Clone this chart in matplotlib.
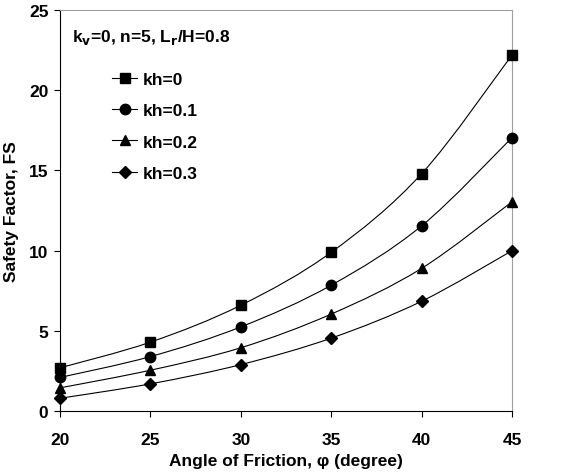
import numpy as np
import matplotlib
matplotlib.use("Agg")
import matplotlib.pyplot as plt
from matplotlib.path import Path
from matplotlib.patches import PathPatch
from matplotlib.lines import Line2D

plt.rcParams['font.family'] = ['Liberation Sans', 'DejaVu Sans']
plt.rcParams['font.weight'] = 'bold'

# data
angles = [20, 25, 30, 35, 40, 45]
fs_kh0 = [2.7, 4.3, 6.6, 9.9, 14.8, 22.2]
fs_kh01 = [2.1, 3.4, 5.25, 7.85, 11.55, 17.05]
fs_kh02 = [1.45, 2.55, 3.95, 6.05, 8.9, 13.05]
fs_kh03 = [0.8, 1.7, 2.9, 4.55, 6.85, 10.0]
labels = ['kh=0', 'kh=0.1', 'kh=0.2', 'kh=0.3']
markers = ['s', 'o', '^', 'D']
msizes = [7, 7.5, 7.5, 6]


# smooth curve through the points (excel style), drawn as cubic bezier path
def smoothPath(x, y, t=1/6):
    x = np.asarray(x, float)
    y = np.asarray(y, float)
    verts = [(x[0], y[0])]
    codes = [Path.MOVETO]
    n = len(x)
    for i in range(n - 1):
        i0 = max(i - 1, 0)
        i3 = min(i + 2, n - 1)
        c1 = (x[i] + (x[i+1] - x[i0]) * t, y[i] + (y[i+1] - y[i0]) * t)
        c2 = (x[i+1] - (x[i3] - x[i]) * t, y[i+1] - (y[i3] - y[i]) * t)
        verts += [c1, c2, (x[i+1], y[i+1])]
        codes += [Path.CURVE4] * 3
    return Path(verts, codes)


fig = plt.figure(figsize=(5.63, 4.77), dpi=100)
ax = fig.add_axes([0.1066, 0.136, 0.803, 0.841])

series = [fs_kh0, fs_kh01, fs_kh02, fs_kh03]
handles = []
for vals, lab, mk, ms in zip(series, labels, markers, msizes):
    ax.add_patch(PathPatch(smoothPath(angles, vals), fill=False, edgecolor='black', lw=0.8, zorder=2))
    ax.plot(angles, vals, linestyle='none', marker=mk, markersize=ms, color='black', zorder=3, clip_on=False)
    handles.append(Line2D([], [], color='black', lw=0.8, marker=mk, markersize=ms, label=lab))

ax.set_xlim(20, 45)
ax.set_ylim(0, 25)
ax.set_xticks([20, 25, 30, 35, 40, 45])
ax.set_yticks([0, 5, 10, 15, 20, 25])
ax.tick_params(direction='out', length=4.3, width=0.8, labelsize=12.5, pad=4)
ax.tick_params(axis='x', pad=11)
for lbl in ax.get_xticklabels() + ax.get_yticklabels():
    lbl.set_fontweight('bold')

ax.spines['top'].set_color('#a0a0a0')
ax.spines['right'].set_color('#a0a0a0')
ax.spines['left'].set_color('black')
ax.spines['bottom'].set_color('black')

ax.set_xlabel('Angle of Friction, φ (degree)', fontsize=12.5, fontweight='bold', labelpad=4)
ax.set_ylabel('Safety Factor, FS', fontsize=12.5, fontweight='bold', labelpad=7)

ax.text(0.027, 0.933, r'k$_\mathbf{v}$=0, n=5, L$_\mathbf{r}$/H=0.8', transform=ax.transAxes,
        fontsize=12.5, fontweight='bold', ha='left', va='center')

leg = ax.legend(handles=handles, loc='upper left', bbox_to_anchor=(0.115, 0.845), frameon=False,
                prop={'weight': 'bold', 'size': 12.5}, handlelength=1.45, handletextpad=0.3,
                labelspacing=0.92, borderaxespad=0, borderpad=0)

plt.savefig('out.png', dpi=100)
plt.close()
